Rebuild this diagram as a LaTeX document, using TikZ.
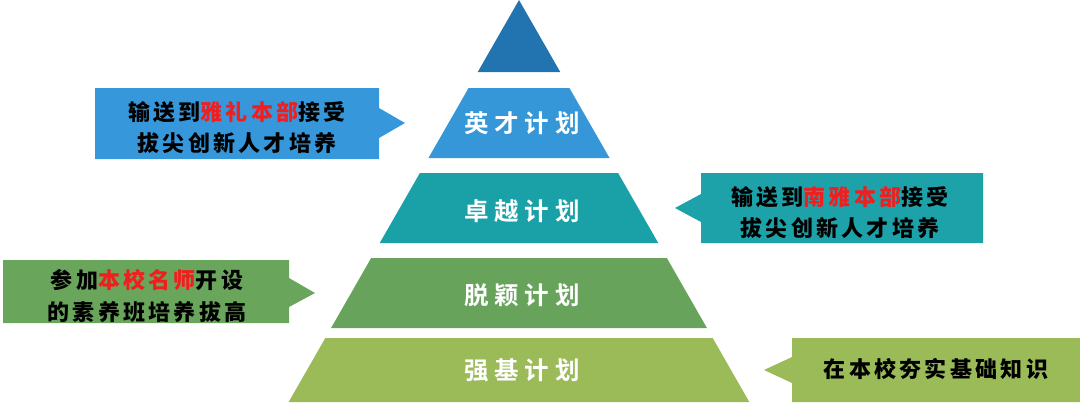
\documentclass[tikz,border=0pt]{standalone}
\usepackage{fontspec}
\newfontfamily\cjkcall{Noto Sans CJK SC Black}[LetterSpace=15]
\newfontfamily\cjktier{Noto Sans CJK SC Bold}[LetterSpace=24]
\definecolor{ctop}{HTML}{2274B0}
\definecolor{ctwo}{HTML}{3597D8}
\definecolor{cthree}{HTML}{1AA1A8}
\definecolor{cfour}{HTML}{68A35C}
\definecolor{cfive}{HTML}{9BBB59}
\definecolor{cblue}{HTML}{3797DB}
\definecolor{cteal}{HTML}{1EA2AA}
\definecolor{cgreen}{HTML}{6AA55C}
\definecolor{clight}{HTML}{9BBB59}
\definecolor{myred}{HTML}{F01E1E}
\newcommand\hl[1]{\textcolor{myred}{#1}}
\begin{document}
\begin{tikzpicture}[x=1pt,y=-1pt,
  tiertext/.style={font=\cjktier\fontsize{24.5}{30}\selectfont, text=white, inner sep=0pt},
  calltext/.style={font=\cjkcall\fontsize{22}{31.5}\selectfont, text=black, align=center, inner sep=0pt}
]
\useasboundingbox (0,0) rectangle (1080,402);
% pyramid
\fill[ctop] (519,0) -- ({519+0.573*72},72) -- ({519-0.573*72},72) -- cycle;
\fill[ctwo] ({519-0.573*88},88) -- ({519+0.573*88},88) -- ({519+0.573*158},158) -- ({519-0.573*158},158) -- cycle;
\fill[cthree] ({519-0.573*173},173) -- ({519+0.573*173},173) -- ({519+0.573*243},243) -- ({519-0.573*243},243) -- cycle;
\fill[cfour] ({519-0.573*258},258) -- ({519+0.573*258},258) -- ({519+0.573*328},328) -- ({519-0.573*328},328) -- cycle;
\fill[cfive] ({519-0.573*338},338) -- ({519+0.573*338},338) -- ({519+0.573*402},402) -- ({519-0.573*402},402) -- cycle;
\node[tiertext] (t2) at (522,123) {英才计划};
\node[tiertext] (t3) at (522,211) {卓越计划};
\node[tiertext] (t4) at (522,295) {脱颖计划};
\node[tiertext] (t5) at (522,370) {强基计划};
% callouts
\fill[cblue] (95,88) -- (379,88) -- (379,108) -- (405,123) -- (379,138) -- (379,159) -- (95,159) -- cycle;
\node[calltext] (n1) at (237,127.5) {输送到\hl{雅礼本部}接受\\拔尖创新人才培养};
\fill[cteal] (701,173) -- (983,173) -- (983,243) -- (701,243) -- (701,222) -- (675,208) -- (701,194) -- cycle;
\node[calltext] (n2) at (840,212.5) {输送到\hl{南雅本部}接受\\拔尖创新人才培养};
\fill[cgreen] (3,260) -- (289,260) -- (289,278) -- (315,293) -- (289,307) -- (289,323) -- (3,323) -- cycle;
\node[calltext] (n3) at (147,296) {参加\hl{本校名师}开设\\的素养班培养拔高};
\fill[clight] (792,338) -- (1080,338) -- (1080,402) -- (792,402) -- (792,383) -- (764,370) -- (792,357) -- cycle;
\node[calltext] (n4) at (936,369) {在本校夯实基础知识};
\end{tikzpicture}
\end{document}
